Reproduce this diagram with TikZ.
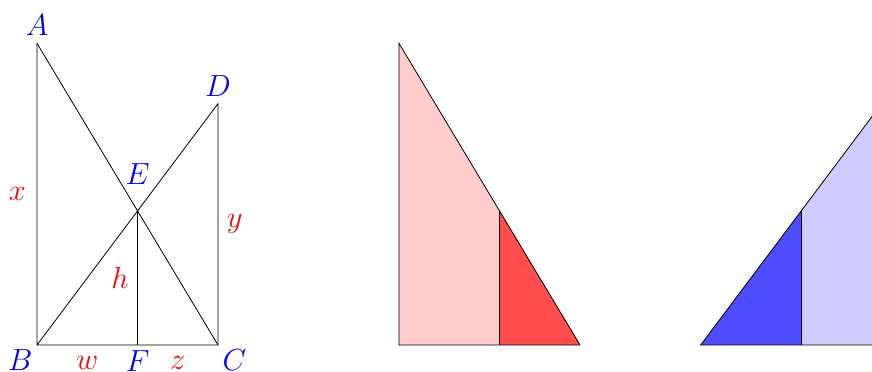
\documentclass[tikz,border=0pt]{standalone}
\usepackage{tikz}
\usepackage{xcolor}
\usetikzlibrary{calc}
\definecolor{pointBlue}{RGB}{0,0,255}
\definecolor{lengthRed}{RGB}{255,0,0}
\definecolor{softRed}{RGB}{255,204,204}
\definecolor{strongRed}{RGB}{255,77,77}
\definecolor{softBlue}{RGB}{204,204,255}
\definecolor{strongBlue}{RGB}{77,77,255}
\tikzset{
    edge/.style={draw=black, line width=0.4pt},
    ptlabel/.style={text=pointBlue, font=\Large},
    lenlabel/.style={text=lengthRed, font=\Large}
}

\begin{document}
\begin{tikzpicture}
    \useasboundingbox (-0.613,-0.4475) rectangle (13.84,5.718);
    % crossed ladders
    \coordinate (B) at (0,0);
    \coordinate (C) at (3,0);
    \coordinate (A) at (0,5);
    \coordinate (D) at (3,4);
    \coordinate (E) at ($(B)!5/9!(D)$);
    \coordinate (F) at (E |- B);
    \draw[edge] (A) -- (B) -- (C) -- (D) -- (B);
    \draw[edge] (A) -- (C);
    \draw[edge] (E) -- (F);
    \node[ptlabel, above] (lA) at (A) {$A$};
    \node[ptlabel, above] (lD) at (D) {$D$};
    \node[ptlabel, above=0.32cm] (lE) at (E) {$E$};
    \node[ptlabel, below left, inner sep=2pt] (lB) at (B) {$B$};
    \node[ptlabel, below right, inner sep=2pt] (lC) at (C) {$C$};
    \node[ptlabel, below, inner sep=2.5pt] (lF) at (F) {$F$};
    \path (A) -- node[lenlabel, left, inner sep=5pt] (lx) {$x$} (B);
    \path (D) -- node[lenlabel, right, inner sep=4pt] (ly) {$y$} (C);
    \path (E) -- node[lenlabel, left, inner sep=4pt] (lh) {$h$} (F);
    \path (B) -- node[lenlabel, below, inner sep=5pt] (lw) {$w$} (F);
    \path (F) -- node[lenlabel, below, inner sep=5pt] (lz) {$z$} (C);
    % left ladder, similar triangles
    \begin{scope}[xshift=6cm]
        \coordinate (A2) at (0,5);
        \coordinate (B2) at (0,0);
        \coordinate (C2) at (3,0);
        \coordinate (E2) at ($(A2)!5/9!(C2)$);
        \coordinate (F2) at (E2 |- B2);
        \fill[softRed] (A2) -- (B2) -- (C2) -- cycle;
        \fill[strongRed] (E2) -- (F2) -- (C2) -- cycle;
        \draw[edge] (A2) -- (B2) -- (C2) -- cycle;
        \draw[edge] (E2) -- (F2);
    \end{scope}
    % right ladder, similar triangles
    \begin{scope}[xshift=11cm]
        \coordinate (B3) at (0,0);
        \coordinate (C3) at (3,0);
        \coordinate (D3) at (3,4);
        \coordinate (E3) at ($(B3)!5/9!(D3)$);
        \coordinate (F3) at (E3 |- B3);
        \fill[softBlue] (B3) -- (C3) -- (D3) -- cycle;
        \fill[strongBlue] (B3) -- (F3) -- (E3) -- cycle;
        \draw[edge] (B3) -- (C3) -- (D3) -- cycle;
        \draw[edge] (E3) -- (F3);
    \end{scope}
\end{tikzpicture}
\end{document}
